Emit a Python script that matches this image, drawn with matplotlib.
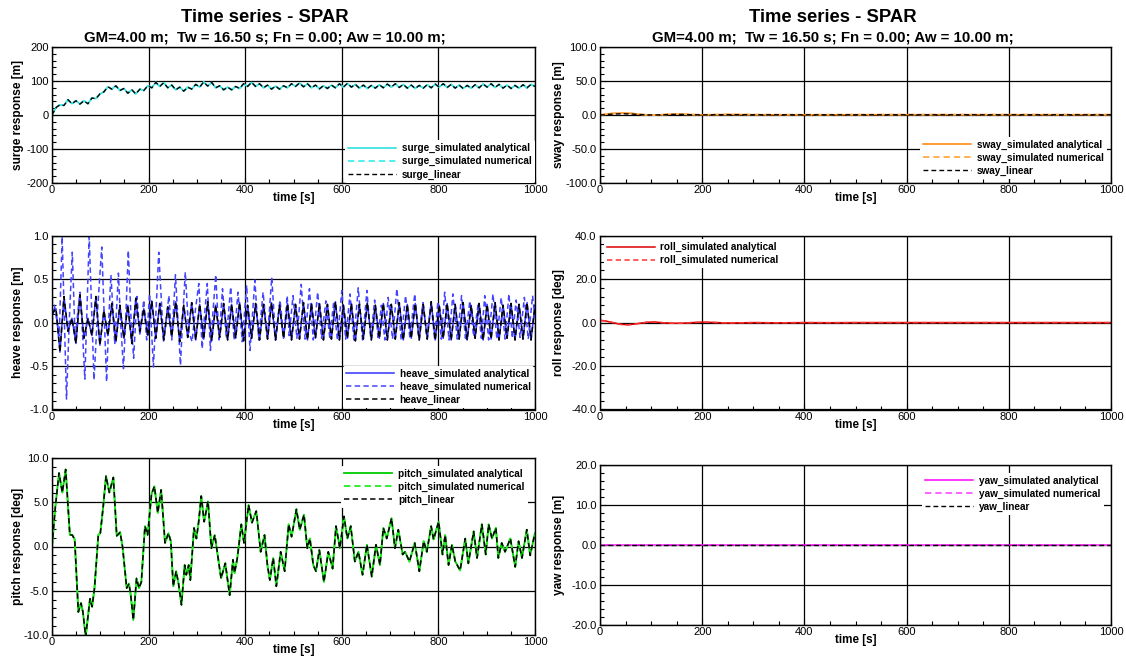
import numpy as np
import matplotlib
matplotlib.use("Agg")
import matplotlib.pyplot as plt
from matplotlib.ticker import MultipleLocator, FormatStrFormatter, AutoMinorLocator

plt.rcParams['font.family'] = ['Liberation Sans', 'DejaVu Sans']

# ---------------------------------------------------------------- data
# surge [m], sampled on a uniform time grid over 0..1000 s
surge_m = [
    0, 22, 30, 28, 45, 33, 42, 32, 42, 33,
    50, 48, 62, 68, 83, 76, 86, 72, 78, 64,
    74, 62, 76, 72, 86, 80, 96, 84, 95, 80,
    88, 74, 82, 70, 82, 76, 90, 82, 97, 85,
    96, 80, 86, 74, 82, 74, 84, 78, 92, 84,
    96, 84, 92, 80, 88, 76, 85, 76, 86, 80,
    92, 84, 94, 83, 92, 80, 88, 77, 86, 78,
    88, 80, 92, 82, 93, 82, 90, 79, 88, 78,
    87, 79, 89, 80, 91, 82, 92, 81, 90, 79,
    88, 78, 87, 79, 89, 80, 91, 82, 92, 81,
    90, 79, 88, 78, 87, 79, 89, 80, 91, 82,
    92, 81, 90, 79, 88, 78, 87, 79, 89, 80,
    90, 84,
]

# sway [m]
sway_time = [0, 10, 20, 30, 45, 60, 75, 90, 105, 120, 140, 160, 180, 200, 250, 300, 400, 500, 1000]
sway_sim_m = [0, 1.0, 2.0, 2.5, 3.0, 2.5, 1.2, 0.2, -0.3, 0.3, 1.2, 1.3, 0.6, 0.3, 0.8, 0.5, 0.4, 0.5, 0.5]
sway_lin_m = [0, 0.5, 1.0, 1.5, 1.8, 1.5, 0.8, 0.2, 0.0, 0.3, 0.8, 0.8, 0.4, 0.2, 0.5, 0.3, 0.3, 0.3, 0.3]

# heave [m], linear model, uniform time grid
heave_lin_m = [
    0.10, 0.16, -0.34, 0.30, -0.10, 0.05, -0.24, 0.32, -0.18, 0.05,
    -0.15, 0.30, -0.26, 0.14, -0.15, 0.22, -0.22, 0.20, -0.18, 0.20,
    -0.24, 0.28, -0.10, 0.16, -0.15, 0.25, -0.18, 0.22, -0.20, 0.18,
    -0.16, 0.24, -0.22, 0.20, -0.17, 0.23, -0.20, 0.21, -0.19, 0.24,
    -0.21, 0.20, -0.17, 0.22, -0.20, 0.21, -0.18, 0.23, -0.21, 0.20,
    -0.18, 0.22, -0.20, 0.21, -0.19, 0.23, -0.20, 0.20, -0.18, 0.22,
    -0.20, 0.21, -0.19, 0.23, -0.20, 0.22, -0.18, 0.22, -0.20, 0.21,
    -0.19, 0.24, -0.20, 0.20, -0.18, 0.22, -0.21, 0.21, -0.19, 0.23,
    -0.20, 0.20, -0.18, 0.22, -0.20, 0.21, -0.19, 0.23, -0.20, 0.21,
    -0.18, 0.22, -0.20, 0.21, -0.19, 0.24, -0.20, 0.20, -0.18, 0.22,
    -0.20, 0.21, -0.19, 0.23, -0.20, 0.20, -0.18, 0.22, -0.20, 0.21,
    -0.19, 0.23, -0.20, 0.20, -0.18, 0.22, -0.20, 0.21, -0.19, 0.23,
    -0.20, 0.20,
]

# heave [m], numerical simulation (time [s], value)
heave_num_time = [
    0, 5, 10, 15, 21, 30, 36, 42, 48, 53, 58, 63, 68, 77, 87, 95, 103, 113, 118, 122,
    130, 137.5, 142, 148, 153, 158, 164, 169, 176, 182, 190, 196, 202, 210, 215, 221,
    231, 237, 242, 248, 255.6, 261, 266, 271, 276, 283, 290, 297, 304, 311, 316, 321.5,
    328, 333, 339, 346, 353, 361, 370, 377, 385, 394, 403, 410, 420, 428, 437, 446,
    455, 463, 472, 480, 487, 491, 499, 507, 516, 524, 533, 541, 550, 558, 567, 575,
    583, 591, 600, 608, 617, 625, 634, 643, 652, 660, 668, 675, 682, 689, 696, 705,
    714, 723, 732, 741, 751, 759, 768, 776, 785, 792, 799, 806, 813, 822, 830, 839,
    848, 856, 865, 873, 882, 889, 896, 904, 913, 921, 930, 938, 946, 953, 961, 969,
    978, 986, 995, 1000,
]
heave_num_m = [
    0.0, 0.2, 0.02, -0.15, 0.99, -0.88, 0.05, 0.81, -0.2, 0.1, 0.35, -0.1, -0.65, 0.99, -0.66, 0.2, 0.87, -0.68, 0.1, 0.55,
    -0.25, 0.57, 0.0, -0.53, 0.1, 0.83, 0.0, -0.41, 0.3, -0.15, 0.26, -0.2, 0.33, -0.51, 0.1, 0.81,
    -0.22, 0.05, 0.31, -0.2, 0.55, 0.0, -0.49, 0.1, 0.58, -0.1, -0.22, 0.15, 0.45, -0.3, 0.1, 0.45,
    -0.32, 0.1, 0.55, -0.2, 0.39, -0.18, 0.41, -0.2, 0.35, -0.22, 0.43, -0.32, 0.49, -0.2, 0.35, -0.18,
    0.52, -0.2, 0.26, -0.17, 0.31, -0.15, 0.31, -0.18, 0.44, -0.19, 0.39, -0.2, 0.35, -0.18, 0.25, -0.17,
    0.22, -0.2, 0.37, -0.19, 0.33, -0.2, 0.40, -0.2, 0.37, -0.18, 0.26, -0.17, 0.2, -0.2, 0.29, -0.19,
    0.39, -0.2, 0.31, -0.18, 0.33, -0.18, 0.23, -0.16, 0.21, -0.18, 0.24, -0.19, 0.35, -0.2, 0.33, -0.19,
    0.31, -0.18, 0.25, -0.16, 0.2, -0.18, 0.31, -0.2, 0.33, -0.19, 0.29, -0.19, 0.33, -0.18, 0.26, -0.17,
    0.29, -0.19, 0.31, 0.05,
]

# roll [deg]
roll_time = [0, 10, 25, 40, 55, 70, 90, 105, 120, 140, 160, 180, 200, 220, 250, 300, 350, 400, 450, 500, 1000]
roll_deg = [1.0, 0.8, 0.0, -0.8, -1.0, -0.6, 0.1, 0.3, 0.0, -0.3, -0.3, 0.0, 0.2, 0.1, -0.2, 0.0, -0.1, 0.0, -0.05, 0.0, 0.0]

# pitch [deg] (time [s], value)
pitch_time = [
    0, 7, 14.5, 21.4, 28.3, 37, 42, 47, 54.5, 60, 64, 69.7, 78.7, 83, 88, 95.9, 100, 106,
    111.8, 118.7, 127, 134, 141, 146, 154.6, 159.4, 163, 168.4, 175, 180, 185, 192.5, 198,
    206, 212, 219, 226, 234, 241, 246, 251, 257, 262, 268, 274.7, 278, 283, 286.4, 294, 299,
    303.7, 309, 315, 323, 330, 337, 342, 350, 358.8, 363, 367.8, 374.7, 378, 383.7, 392,
    397.5, 407, 414, 423, 432, 440, 446, 451, 458, 464.5, 473.4, 481.7, 490, 496, 506, 513,
    521.7, 528.5, 534, 541, 546.6, 553.5, 563, 572, 581, 588, 596, 604.5, 611.5, 618.5, 627,
    634.5, 643, 652, 662, 670.8, 679, 686, 693, 703, 710, 717, 726, 731, 740, 751, 760.5,
    769.5, 776, 785, 790, 800.5, 808.5, 814, 821, 828, 835, 845, 855.6, 862, 873, 880, 890,
    898, 904, 911, 919, 924, 931, 938, 949, 959, 966, 973, 983, 990, 997, 1000,
]
pitch_deg = [
    0.0, 4.5, 8.3, 6.1, 8.7, 1.3, 1.3, 0.8, -7.4, -6.4, -7.4, -10.2, -5.9, -6.8, -4.7, 1.3, 1.5, 4.5,
    7.95, 6.1, 7.8, 1.2, 1.6, 0.0, -4.7, -4.2, -5.5, -8.3, -3.6, -4.7, -4.0, 2.3, 1.3,
    5.9, 6.8, 3.8, 6.4, 0.4, 1.5, 0.6, -4.5, -2.8, -4.2, -6.6, -2.1, -3.2, -2.1, -3.8, 2.1, 0.9,
    2.8, 5.7, 2.8, 5.1, -0.2, 1.3, -0.6, -3.6, -1.9, -3.6, -5.5, -1.5, -3.0, -1.3, 2.5,
    0.4, 4.7, 2.7, 4.0, -0.6, 1.3, -2.1, -3.8, -1.3, -4.5, -0.6, -2.8, 2.5, 1.1, 4.2, 1.9,
    3.6, -0.2, 0.9, -2.1, -2.8, -0.4, -4.0, -0.6, -2.5, 2.3, -0.2, 3.4, 0.9, 2.3, -1.7,
    -0.6, -3.2, 0.2, -3.4, 0.2, -2.1, 2.1, 0.9, 3.2, -0.2, 1.9, -0.9, -0.6, -1.7, 0.4, -2.8,
    0.6, -0.6, 2.3, 0.8, 2.8, -0.9, 1.3, -2.1, 0.2, -1.7, -2.7, 0.9, -1.9, 1.7, -1.3, 2.5,
    -0.9, 2.5, 0.9, 2.1, -1.3, 0.4, -0.6, 0.9, -2.3, 0.6, -1.3, 1.9, -1.0, 0.8, 1.5,
]

# yaw [m]
yaw_time = [0, 1000]
yaw_m = [0.0, 0.0]

TITLE = "Time series - SPAR"
SUBTITLE = "GM=4.00 m;  Tw = 16.50 s; Fn = 0.00; Aw = 10.00 m;"

# ---------------------------------------------------------------- figure
W, H = 1126, 659
fig = plt.figure(figsize=(W / 100, H / 100), dpi=100)


def box(x0, x1, y0, y1):
    return [x0 / W, 1 - y1 / H, (x1 - x0) / W, (y1 - y0) / H]


def style(ax, ylim, ystep, fmt, ylabel, ylab_x, height_px):
    ax.set_xlim(0, 1000)
    ax.set_ylim(*ylim)
    ax.xaxis.set_major_locator(MultipleLocator(200))
    ax.xaxis.set_minor_locator(MultipleLocator(50))
    ax.yaxis.set_major_locator(MultipleLocator(ystep))
    ax.yaxis.set_minor_locator(AutoMinorLocator(5))
    ax.yaxis.set_major_formatter(FormatStrFormatter(fmt))
    ax.grid(True, which='major', color='black', lw=0.9)
    ax.tick_params(which='both', direction='in', labelsize=8, top=False, right=False)
    ax.tick_params(axis='x', pad=1.5)
    ax.tick_params(axis='y', pad=2.5)
    ax.tick_params(which='major', length=4, width=0.8)
    ax.tick_params(which='minor', length=3, width=0.8)
    for s in ax.spines.values():
        s.set_linewidth(1.0)
    ax.set_xlabel('time [s]', fontsize=8.4, fontweight='bold')
    ax.xaxis.set_label_coords(0.5, -9.5 / height_px)
    ax.set_ylabel(ylabel, fontsize=8.6, fontweight='bold')
    ax.yaxis.set_label_coords(ylab_x, 0.5)


def legend(ax, loc, pad):
    ax.legend(loc=loc, prop={'weight': 'bold', 'size': 7.2}, frameon=True,
              facecolor='white', edgecolor='none', framealpha=1.0,
              handlelength=4.8, handletextpad=0.6, labelspacing=0.3,
              borderpad=0.3, borderaxespad=pad)


DASH = (0, (3.5, 2.2))
LX, RX = -0.058, -0.068

# surge
ax = fig.add_axes(box(52, 535, 47, 183))
t = np.linspace(0, 1000, len(surge_m))
ax.plot(t, surge_m, color='#22dddd', lw=1.1, label='surge_simulated analytical')
ax.plot(t, surge_m, color='#44eeee', lw=1.3, ls=DASH, label='surge_simulated numerical')
ax.plot(t, surge_m, color='black', lw=1.0, ls=DASH, label='surge_linear')
style(ax, (-200, 200), 100, '%.0f', 'surge response [m]', LX, 136)
legend(ax, 'lower right', 0.05)

# sway
ax = fig.add_axes(box(600, 1111, 47, 183))
ax.plot(sway_time, sway_sim_m, color='#ff8000', lw=1.1, label='sway_simulated analytical')
ax.plot(sway_time, sway_sim_m, color='#ffaa44', lw=1.3, ls=DASH, label='sway_simulated numerical')
ax.plot(sway_time, sway_lin_m, color='black', lw=1.0, ls=DASH, label='sway_linear')
style(ax, (-100, 100), 50, '%.1f', 'sway response [m]', RX, 136)
legend(ax, 'lower right', 0.4)

# heave
ax = fig.add_axes(box(52, 535, 235.7, 409.5))
t = np.linspace(0, 1000, len(heave_lin_m))
ax.plot(t, heave_lin_m, color='#3333ff', lw=1.1, label='heave_simulated analytical')
ax.plot(heave_num_time, heave_num_m, color='#4444ff', lw=1.1, ls=DASH, label='heave_simulated numerical')
ax.plot(t, heave_lin_m, color='black', lw=1.1, ls=DASH, label='heave_linear')
style(ax, (-1.0, 1.0), 0.5, '%.1f', 'heave response [m]', LX, 174)
legend(ax, 'lower right', 0.15)

# roll
ax = fig.add_axes(box(600, 1111, 235.7, 409.5))
ax.plot(roll_time, roll_deg, color='#dd0000', lw=1.1, label='roll_simulated analytical')
ax.plot(roll_time, roll_deg, color='#ff3333', lw=1.1, ls=DASH, label='roll_simulated numerical')
style(ax, (-40, 40), 20, '%.1f', 'roll response [deg]', RX, 174)
legend(ax, 'upper left', 0.35)

# pitch
ax = fig.add_axes(box(52, 535, 458, 635))
ax.plot(pitch_time, pitch_deg, color='#00cc00', lw=1.3, label='pitch_simulated analytical')
ax.plot(pitch_time, pitch_deg, color='#22ee22', lw=1.3, ls=DASH, label='pitch_simulated numerical')
ax.plot(pitch_time, pitch_deg, color='black', lw=1.1, ls=DASH, label='pitch_linear')
style(ax, (-10, 10), 5, '%.1f', 'pitch response [deg]', LX, 177)
legend(ax, 'upper right', 0.75)

# yaw
ax = fig.add_axes(box(600, 1111, 465, 625))
ax.plot(yaw_time, yaw_m, color='#ff00ff', lw=1.1, label='yaw_simulated analytical')
ax.plot(yaw_time, yaw_m, color='#ff55ff', lw=1.3, ls=DASH, label='yaw_simulated numerical')
ax.plot(yaw_time, yaw_m, color='black', lw=1.0, ls=DASH, label='yaw_linear')
style(ax, (-20, 20), 10, '%.1f', 'yaw response [m]', RX, 160)
legend(ax, 'upper right', 0.75)

# column titles
for cx in (265, 833):
    fig.text(cx / W, 1 - 18 / H, TITLE, ha='center', va='center', fontsize=13.3, fontweight='bold')
    fig.text(cx / W, 1 - 38 / H, SUBTITLE, ha='center', va='center', fontsize=10.8, fontweight='bold')

fig.savefig('out.png', dpi=100)
